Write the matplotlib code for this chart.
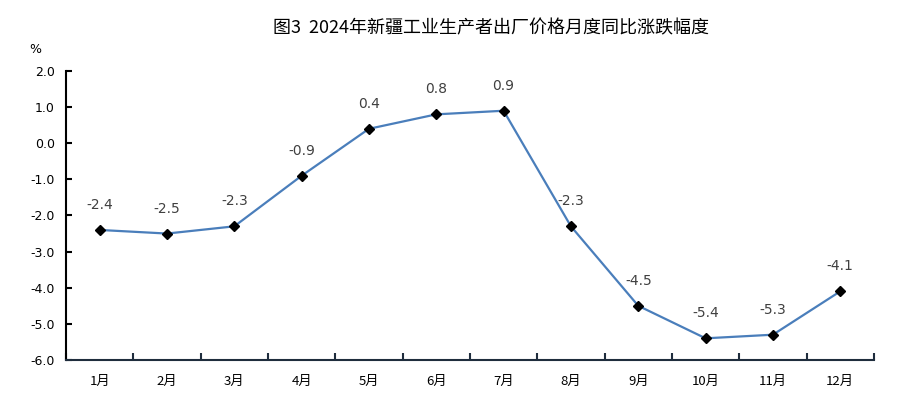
import matplotlib
matplotlib.use("Agg")
import matplotlib.pyplot as plt

plt.rcParams['font.family'] = ['Noto Sans CJK SC', 'DejaVu Sans']

months = ["1月", "2月", "3月", "4月", "5月", "6月",
          "7月", "8月", "9月", "10月", "11月", "12月"]
yoy = [-2.4, -2.5, -2.3, -0.9, 0.4, 0.8, 0.9, -2.3, -4.5, -5.4, -5.3, -4.1]
yticks = [2.0, 1.0, 0.0, -1.0, -2.0, -3.0, -4.0, -5.0, -6.0]

fig = plt.figure(figsize=(9, 3.98), dpi=100)
ax = fig.add_axes([0.0733, 0.0955, 0.8977, 0.7261])

x = list(range(len(months)))
ax.plot(x, yoy, color="#4A7EBB", linewidth=1.6, marker="D", markersize=5,
        markerfacecolor="black", markeredgecolor="black", zorder=3)

# data labels sit a little above each point
for xi, v in zip(x, yoy):
    ax.annotate(f"{v:.1f}", (xi, v), xytext=(0, 13), textcoords="offset points",
                ha="center", va="bottom", fontsize=10, color="#404040",
                family="DejaVu Sans")

ax.set_xlim(-0.5, len(months) - 0.5)
ax.set_ylim(-6.0, 2.0)
ax.set_yticks(yticks)
ax.set_yticklabels([f"{t:.1f}" for t in yticks], fontsize=9, family="DejaVu Sans")
ax.set_xticks([i + 0.5 for i in range(-1, len(months))])
ax.set_xticklabels([])
ax.set_xticks(x, minor=True)
ax.set_xticklabels(months, minor=True, fontsize=9.5)
ax.tick_params(axis="x", which="major", direction="in", length=5, width=1.5, color="#1F2D3D")
ax.tick_params(axis="x", which="minor", length=0, pad=11)
ax.tick_params(axis="y", direction="in", length=4, width=1.5, pad=8)

for side in ("top", "right"):
    ax.spines[side].set_visible(False)
ax.spines["left"].set_linewidth(1.5)
ax.spines["bottom"].set_linewidth(1.5)
ax.spines["bottom"].set_color("#1F2D3D")

fig.text(0.039, 0.875, "%", fontsize=9, ha="center", va="center", family="DejaVu Sans")
fig.text(0.545, 0.928, "图3  2024年新疆工业生产者出厂价格月度同比涨跌幅度",
         fontsize=13, ha="center", va="center", fontweight="medium")

fig.savefig("out.png", dpi=100)
